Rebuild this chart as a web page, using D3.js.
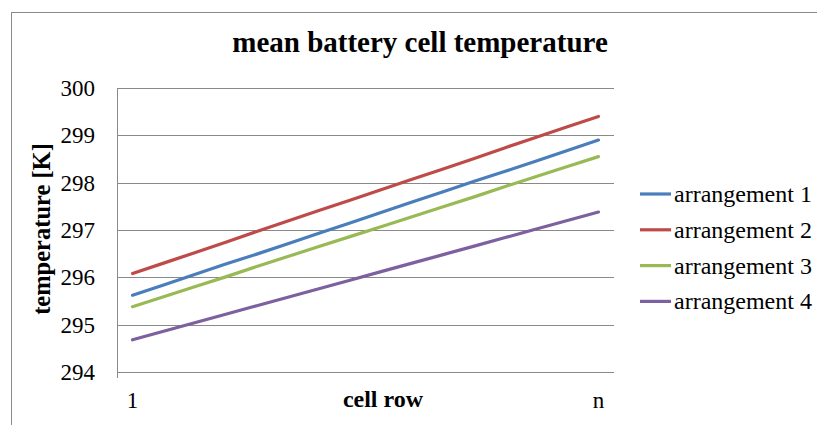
<!DOCTYPE html>
<html><head><meta charset="utf-8">
<script src="https://cdn.jsdelivr.net/npm/d3@7"></script>
<style>html,body{margin:0;padding:0;background:#fff;overflow:hidden}</style>
</head><body>
<svg id="c" width="817" height="425"></svg>
<script>
const categories = ["1","","","","","","","","","","","","","","","n"];
const arrangement1 = [295.62,295.84,296.06,296.28,296.49,296.71,296.93,297.15,297.37,297.59,297.81,298.03,298.24,298.46,298.68,298.90];
const arrangement2 = [296.08,296.30,296.52,296.74,296.97,297.19,297.41,297.63,297.85,298.07,298.29,298.51,298.74,298.96,299.18,299.40];
const arrangement3 = [295.38,295.59,295.80,296.01,296.23,296.44,296.65,296.86,297.07,297.28,297.49,297.70,297.92,298.13,298.34,298.55];
const arrangement4 = [294.68,294.86,295.04,295.22,295.40,295.58,295.76,295.94,296.12,296.30,296.48,296.66,296.84,297.02,297.20,297.38];
const seriesNames = ["arrangement 1","arrangement 2","arrangement 3","arrangement 4"];
const yTicks = [294,295,296,297,298,299,300];

const colors = ["#4A7EBB","#BE4B48","#98B954","#7D60A0"];
const seriesData = [arrangement1, arrangement2, arrangement3, arrangement4];
const font = "'Liberation Serif','Times New Roman',serif";

const svg = d3.select("#c");
const L = 117, R = 614, T = 88, B = 372;

// outer border
svg.append("rect").attr("x",11.5).attr("y",12.5).attr("width",900).attr("height",500)
  .attr("fill","none").attr("stroke","#8a8a8a").attr("stroke-width",1);

const x = d3.scaleBand().domain(d3.range(categories.length)).range([L,R]);
const y = d3.scaleLinear().domain([294,300]).range([B,T]);

// gridlines
svg.append("g").selectAll("line").data(yTicks).join("line")
  .attr("x1",L).attr("x2",R)
  .attr("y1",d=>Math.round(y(d))+0.5).attr("y2",d=>Math.round(y(d))+0.5)
  .attr("stroke","#8a8a8a").attr("stroke-width",1);

// y axis line
svg.append("line").attr("x1",L+0.5).attr("x2",L+0.5).attr("y1",T).attr("y2",B+6)
  .attr("stroke","#8a8a8a").attr("stroke-width",1);

// y tick labels
svg.append("g").selectAll("text").data(yTicks).join("text")
  .attr("x",95).attr("y",d=>y(d)).attr("dy","0.35em")
  .attr("text-anchor","end").attr("font-family",font).attr("font-size",23)
  .attr("fill","#000").text(d=>d);

// x tick labels
svg.append("g").selectAll("text").data(categories.map((c,i)=>({c,i})).filter(d=>d.c!=="")).join("text")
  .attr("x",d=>x(d.i)+x.bandwidth()/2).attr("y",408)
  .attr("text-anchor","middle").attr("font-family",font).attr("font-size",23)
  .attr("fill","#000").text(d=>d.c);

// lines
const line = d3.line().x((d,i)=>x(i)+x.bandwidth()/2).y(d=>y(d));
svg.append("g").selectAll("path").data(seriesData).join("path")
  .attr("d",line).attr("fill","none")
  .attr("stroke",(d,i)=>colors[i]).attr("stroke-width",3.2)
  .attr("stroke-linecap","round").attr("stroke-linejoin","round");

// title
svg.append("text").attr("x",420).attr("y",52).attr("text-anchor","middle")
  .attr("font-family",font).attr("font-size",29).attr("font-weight","bold")
  .text("mean battery cell temperature");

// axis titles
svg.append("text").attr("x",383).attr("y",407).attr("text-anchor","middle")
  .attr("font-family",font).attr("font-size",24).attr("font-weight","bold")
  .text("cell row");
svg.append("text").attr("transform","translate(50,229) rotate(-90)").attr("text-anchor","middle")
  .attr("font-family",font).attr("font-size",24.5).attr("font-weight","bold")
  .text("temperature [K]");

// legend
const lg = svg.append("g").selectAll("g").data(seriesNames).join("g")
  .attr("transform",(d,i)=>`translate(640,${194+i*35.8})`);
lg.append("line").attr("x1",0).attr("x2",31).attr("y1",0).attr("y2",0)
  .attr("stroke",(d,i)=>colors[i]).attr("stroke-width",3.2);
lg.append("text").attr("x",34).attr("y",0).attr("dy","0.33em")
  .attr("font-family",font).attr("font-size",24).text(d=>d);
</script>
</body></html>
